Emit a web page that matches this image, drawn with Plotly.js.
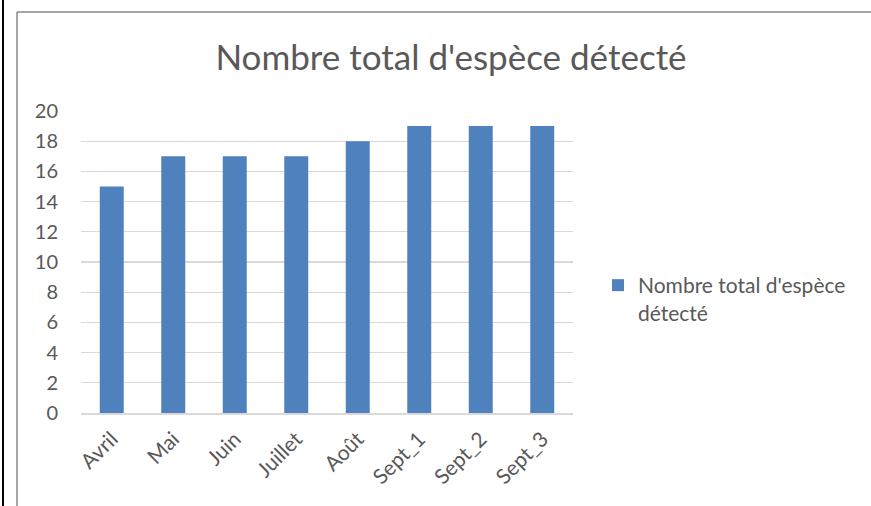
<!DOCTYPE html>
<html>
<head>
<meta charset="utf-8">
<script src="https://cdn.plot.ly/plotly-3.0.1.min.js"></script>
<style>html,body{margin:0;padding:0;background:#fff;}#chart{width:871px;height:506px;}</style>
</head>
<body>
<div id="chart"></div>
<script>
const categories = ["Avril", "Mai", "Juin", "Juillet", "Août", "Sept_1", "Sept_2", "Sept_3"];
const values = [15, 17, 17, 17, 18, 19, 19, 19];
const seriesName = "Nombre total d'espèce<br>détecté";
const titleText = "Nombre total d'espèce détecté";
const yTicks = [0, 2, 4, 6, 8, 10, 12, 14, 16, 18, 20];

const FONT = "Lato, 'Open Sans', sans-serif";
const L = 81, R = 298, T = 111, B = 93, W = 871, H = 506;
const pw = W - L - R, ph = H - T - B;
const px = v => (v - L) / pw;
const py = v => (H - B - v) / ph;

const trace = {
  type: 'bar', x: categories, y: values, name: seriesName,
  marker: {color: '#4f81bd'}, showlegend: true
};

const layout = {
  width: W, height: H,
  margin: {l: L, r: R, t: T, b: B},
  paper_bgcolor: '#fff', plot_bgcolor: '#fff',
  font: {family: FONT, color: '#595959'},
  title: {text: titleText, font: {size: 35, color: '#595959', family: FONT},
          xref: 'paper', x: px(451), xanchor: 'center', yref: 'container', y: 1 - 58/506, yanchor: 'middle'},
  bargap: 0.61,
  xaxis: {tickangle: -45, tickfont: {size: 21, color: '#595959'}, showline: true, linecolor: '#d9d9d9', linewidth: 1.5,
          ticks: '', showgrid: false, ticklabelstandoff: 4},
  yaxis: {range: [0, 20], tickvals: yTicks, tickfont: {size: 20, color: '#595959'}, showgrid: true, gridcolor: '#d9d9d9',
          gridwidth: 1.2, zeroline: false, showline: false, ticks: '', ticklabelstandoff: 22},
  legend: {x: px(598), xanchor: 'left', y: py(299), yanchor: 'middle', font: {size: 21, color: '#595959'},
           itemwidth: 30, valign: 'top', bgcolor: 'rgba(0,0,0,0)'},
  shapes: [
    {type: 'line', xref: 'paper', yref: 'paper', x0: px(3), x1: px(3), y0: py(-5), y1: py(520), line: {color: '#000', width: 2}},
    {type: 'line', xref: 'paper', yref: 'paper', x0: px(17), x1: px(17), y0: py(520), y1: py(12), line: {color: '#888', width: 1.5}},
    {type: 'line', xref: 'paper', yref: 'paper', x0: px(17), x1: px(875), y0: py(12), y1: py(12), line: {color: '#888', width: 1.5}}
  ]
};

Plotly.newPlot('chart', [trace], layout, {displayModeBar: false, staticPlot: true});
</script>
</body>
</html>
